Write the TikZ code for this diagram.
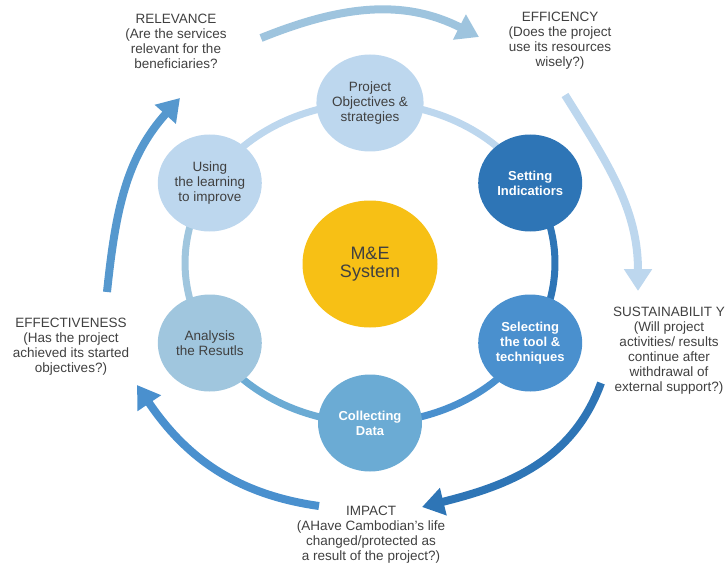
\documentclass[tikz,border=0pt]{standalone}
\usepackage{fontspec}
\setmainfont{Liberation Sans}
\usetikzlibrary{arrows.meta,shapes.geometric}
\definecolor{txtgray}{RGB}{64,64,64}
\definecolor{paleblue}{RGB}{189,215,238}
\definecolor{greyblue}{RGB}{160,198,222}
\definecolor{skyblue}{RGB}{107,171,212}
\definecolor{midblue}{RGB}{74,144,206}
\definecolor{deepblue}{RGB}{46,117,182}
\definecolor{arcblue}{RGB}{158,196,222}
\definecolor{leftblue}{RGB}{86,152,206}
\definecolor{meyellow}{RGB}{247,192,21}
\pgfdeclarelayer{background}
\pgfsetlayers{background,main}

\begin{document}
\begin{tikzpicture}[x=1pt,y=1pt,
  stage/.style={ellipse, minimum width=104pt, minimum height=97pt, inner sep=0pt, align=center, font=\fontsize{13.5}{15}\selectfont, text=txtgray},
  darkstage/.style={stage, text=white, font=\fontsize{13}{15}\selectfont\bfseries},
  ring/.style={line width=7pt},
  crit/.style={align=center, font=\fontsize{13.5}{15}\selectfont, text=txtgray},
  bigarrow/.style={line width=8pt, -{Triangle[length=22pt,width=27pt]}}]

\useasboundingbox (0,0) rectangle (728,-567);

\node [ellipse, fill=meyellow, minimum width=135pt, minimum height=127pt, align=center, font=\fontsize{18}{18}\selectfont, text=txtgray] (mesys) at (370,-264) {M\&E\\System};

\node [stage, fill=paleblue] (objectives) at (370,-103) {Project\\Objectives \&\\strategies};
\node [darkstage, fill=deepblue] (indicators) at (530.2,-183) {Setting\\Indicatiors};
\node [darkstage, fill=midblue] (tools) at (530.2,-343) {Selecting\\the tool \&\\techniques};
\node [darkstage, fill=skyblue] (collecting) at (370,-423) {Collecting\\Data};
\node [stage, fill=greyblue] (analysis) at (209.8,-343) {Analysis\\the Resutls};
\node [stage, fill=paleblue] (learning) at (209.8,-183) {Using\\the learning\\to improve};

\begin{pgfonlayer}{background}
\draw [ring, paleblue] (objectives.center) arc [start angle=90, end angle=30, x radius=185pt, y radius=160pt];
\draw [ring, deepblue] (indicators.center) arc [start angle=30, end angle=-30, x radius=185pt, y radius=160pt];
\draw [ring, midblue] (tools.center) arc [start angle=-30, end angle=-90, x radius=185pt, y radius=160pt];
\draw [ring, skyblue] (collecting.center) arc [start angle=-90, end angle=-150, x radius=185pt, y radius=160pt];
\draw [ring, greyblue] (analysis.center) arc [start angle=210, end angle=150, x radius=185pt, y radius=160pt];
\draw [ring, paleblue] (learning.center) arc [start angle=150, end angle=90, x radius=185pt, y radius=160pt];
\end{pgfonlayer}

\node [crit] (relevance) at (176,-41) {RELEVANCE\\(Are the services\\relevant for the\\beneficiaries?};
\node [crit] (efficency) at (560,-41) {EFFICENCY\\(Does the project\\use its resources\\wisely?)};
\node [crit] (sustain) at (669,-351) {SUSTAINABILIT Y\\(Will project\\activities/ results\\continue after\\withdrawal of\\external support?)};
\node [crit] (effective) at (71,-347) {EFFECTIVENESS\\(Has the project\\achieved its started\\objectives?)};
\node [crit] (impact) at (371,-535) {IMPACT\\(AHave Cambodian’s life\\changed/protected as\\a result of the project?)};

\coordinate (relevanceOut) at (261,-38);
\coordinate (efficencyIn) at (479,-37);
\coordinate (efficencyOut) at (565,-95);
\coordinate (sustainIn) at (638,-291);
\coordinate (sustainOut) at (601,-383);
\coordinate (impactIn) at (422,-507);
\coordinate (impactOut) at (319,-506);
\coordinate (effectiveIn) at (137,-385);
\coordinate (effectiveOut) at (107,-292);
\coordinate (relevanceIn) at (180,-98);

\draw [bigarrow, arcblue] (relevanceOut) to [out=22, in=153] (efficencyIn);
\draw [bigarrow, paleblue] (efficencyOut) to [out=-58, in=90] (sustainIn);
\draw [bigarrow, deepblue] (sustainOut) to [out=250, in=14] (impactIn);
\draw [bigarrow, midblue] (impactOut) to [out=172, in=304] (effectiveIn);
\draw [bigarrow, leftblue] (effectiveOut) to [out=84, in=228] (relevanceIn);

\end{tikzpicture}
\end{document}
